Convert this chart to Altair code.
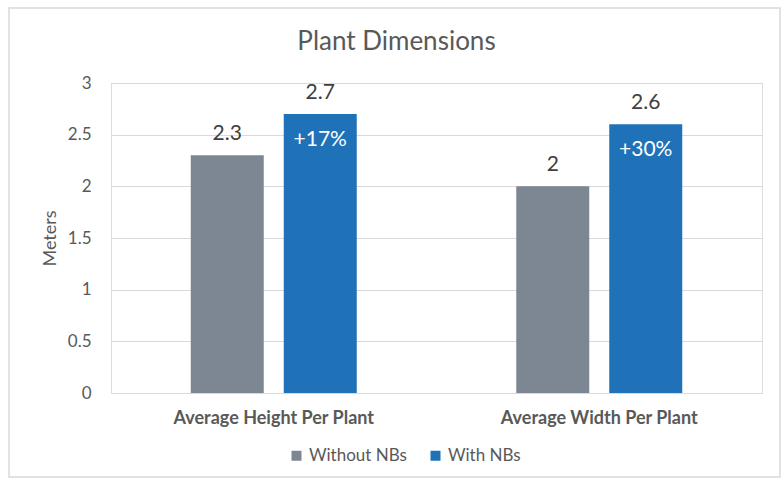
import altair as alt
import pandas as pd

categories = ["Average Height Per Plant", "Average Width Per Plant"]
series = ["Without NBs", "With NBs"]
without_nbs = [2.3, 2.0]
with_nbs = [2.7, 2.6]
increase_labels = ["+17%", "+30%"]

colors = ["#7D8693", "#1F72B8"]
FONT = "Lato"

rows = []
for i, c in enumerate(categories):
    rows.append({"category": c, "series": series[0], "value": without_nbs[i], "pct": ""})
    rows.append({"category": c, "series": series[1], "value": with_nbs[i], "pct": increase_labels[i]})
df = pd.DataFrame(rows)

x_enc = alt.X("category:N", sort=categories, title=None,
              scale=alt.Scale(paddingInner=0.49, paddingOuter=0.245),
              axis=alt.Axis(labelAngle=0, ticks=False, domain=False, labelFontWeight="bold",
                            labelFontSize=18, labelColor="#595959", labelPadding=16,
                            labelFont=FONT, labelLimit=0))
xoff = alt.XOffset("series:N", sort=series,
                   scale=alt.Scale(paddingInner=0.215, paddingOuter=0))
y_enc = alt.Y("value:Q", title="Meters",
              scale=alt.Scale(domain=[0, 3]),
              axis=alt.Axis(values=[0, 0.5, 1, 1.5, 2, 2.5, 3], format="~g", ticks=False,
                            domain=False, labelFontSize=17, labelColor="#595959",
                            labelPadding=20, titleFontSize=18, titleColor="#595959",
                            titleFontWeight="normal", titlePadding=8, gridColor="#D9D9D9",
                            labelFont=FONT, titleFont=FONT))

base = alt.Chart(df)

bars = base.mark_bar().encode(
    x=x_enc, xOffset=xoff, y=y_enc,
    color=alt.Color("series:N", sort=series,
                    scale=alt.Scale(domain=series, range=colors),
                    legend=alt.Legend(title=None, orient="none", direction="horizontal",
                                      legendX=177, legendY=364, symbolType="square",
                                      symbolSize=100, symbolStrokeWidth=0,
                                      labelFontSize=17, labelColor="#595959",
                                      labelFont=FONT, columnPadding=20, labelOffset=4)),
)

value_text = base.mark_text(fontSize=21, color="#404040", baseline="alphabetic", dy=-15,
                            font=FONT).encode(
    x=alt.X("category:N", sort=categories), xOffset=xoff,
    y="value:Q", text=alt.Text("value:Q", format="~g"))

pct_text = base.mark_text(fontSize=21, color="white", baseline="alphabetic", dy=32,
                          font=FONT).encode(
    x=alt.X("category:N", sort=categories), xOffset=xoff,
    y="value:Q", text="pct:N")

frame = alt.Chart(pd.DataFrame({"a": [0]})).mark_rect(fill=None, stroke="#D9D9D9", strokeWidth=1.5).encode(
    x=alt.value(-102), x2=alt.value(669), y=alt.value(-75), y2=alt.value(394))

chart = alt.layer(frame, bars, value_text, pct_text).properties(
    width=651, height=310,
    title=alt.TitleParams("Plant Dimensions", fontSize=26, color="#595959", font=FONT,
                          fontWeight="normal", anchor="middle", dx=-40, offset=-48),
    padding={"left": 111, "top": 83, "right": 22, "bottom": 91},
    autosize=alt.AutoSizeParams(type="none"),
).configure_view(stroke=None).configure(background="white")

chart.save("out.html", embed_options={"renderer": "svg", "actions": False})
